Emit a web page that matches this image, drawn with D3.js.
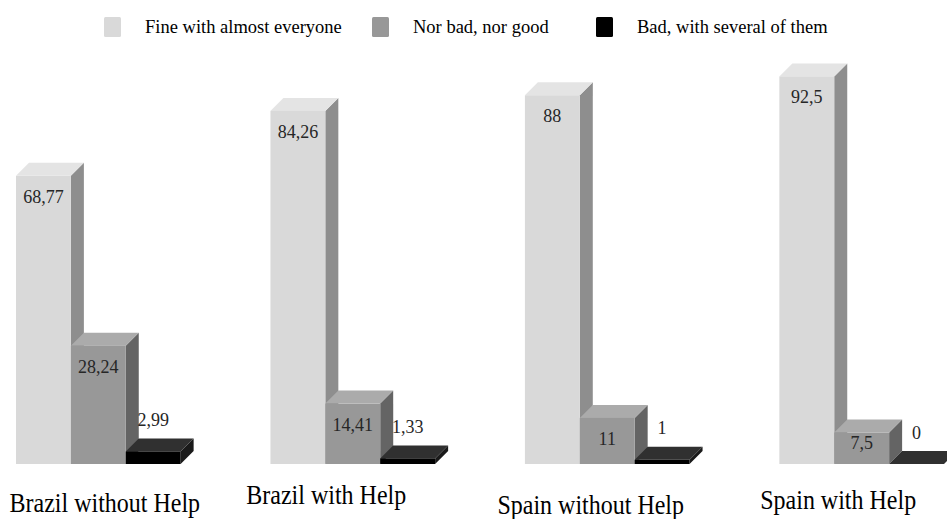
<!DOCTYPE html>
<html>
<head>
<meta charset="utf-8">
<script src="https://cdn.jsdelivr.net/npm/d3@7"></script>
<style>
  html, body { margin: 0; padding: 0; background: #fff; }
  svg { display: block; }
</style>
</head>
<body>
<svg id="chart" width="947" height="519"></svg>
<script>
// Survey answers per group (percent)
const categories = ["Brazil without Help", "Brazil with Help", "Spain without Help", "Spain with Help"];
const seriesNames = ["Fine with almost everyone", "Nor bad, nor good", "Bad, with several of them"];
const fineValues = [68.77, 84.26, 88, 92.5];
const neutralValues = [28.24, 14.41, 11, 7.5];
const badValues = [2.99, 1.33, 1, 0];
const valueLabels = [
  ["68,77", "28,24", "2,99"],
  ["84,26", "14,41", "1,33"],
  ["88", "11", "1"],
  ["92,5", "7,5", "0"]
];

const FONT = "Liberation Serif";

// Face shades per series: front, top, side
const palette = [
  { front: "#d9d9d9", top: "#e4e4e4", side: "#8e8e8e", key: "#d9d9d9" },
  { front: "#989898", top: "#ababab", side: "#646464", key: "#989898" },
  { front: "#000000", top: "#303030", side: "#1a1a1a", key: "#000000" }
];

const depth = 13;           // 3D extrusion offset (x right, y up)
const baseY = 464;

const svg = d3.select("#chart");

const x0 = d3.scaleBand().domain(categories).range([16, 944]).paddingInner(90 / 255).paddingOuter(0);
const x1 = d3.scaleBand().domain(seriesNames).range([0, x0.bandwidth()]).padding(0);
const y = d3.scaleLinear().domain([0, 100]).range([baseY, baseY - 419]);

const seriesValues = [fineValues, neutralValues, badValues];

const rows = categories.map((c, i) => ({
  cat: c,
  bars: seriesNames.map((s, j) => ({ series: s, j, value: seriesValues[j][i], label: valueLabels[i][j] }))
}));

const plot = svg.append("g");

const groups = plot.selectAll("g.group").data(rows).join("g")
  .attr("class", "group")
  .attr("transform", d => `translate(${x0(d.cat)},0)`);

const bar = groups.selectAll("g.bar").data(d => d.bars).join("g").attr("class", "bar");

const bw = x1.bandwidth();

// side face
bar.append("path")
  .attr("fill", d => palette[d.j].side)
  .attr("d", d => {
    const xl = x1(d.series) + bw, t = y(d.value);
    return `M${xl},${t} L${xl + depth},${t - depth} L${xl + depth},${baseY - depth} L${xl},${baseY} Z`;
  });
// top face
bar.append("path")
  .attr("fill", d => palette[d.j].top)
  .attr("d", d => {
    const xl = x1(d.series), t = y(d.value);
    return `M${xl},${t} L${xl + depth},${t - depth} L${xl + bw + depth},${t - depth} L${xl + bw},${t} Z`;
  });
// front face
bar.append("rect")
  .attr("fill", d => palette[d.j].front)
  .attr("x", d => x1(d.series))
  .attr("y", d => y(d.value))
  .attr("width", bw)
  .attr("height", d => baseY - y(d.value));

// value labels: inside the front face when tall enough, otherwise above the bar
bar.append("text")
  .attr("x", d => x1(d.series) + bw / 2)
  .attr("y", d => {
    const t = y(d.value), h = baseY - t;
    return h > 25 ? Math.min(t + 21, baseY - 21) : t - depth - 18.5;
  })
  .attr("text-anchor", "middle")
  .attr("dominant-baseline", "central")
  .attr("font-family", FONT)
  .attr("font-size", 18)
  .attr("fill", "#262626")
  .text(d => d.label);

// category labels under each group (slightly tall lettering)
const labelNudge = [{ dx: 0, y: 512 }, { dx: -33, y: 504 }, { dx: -23, y: 514 }, { dx: -30, y: 509 }];
svg.append("g").selectAll("text").data(categories).join("text")
  .attr("transform", (d, i) =>
    `translate(${x0(d) + x0.bandwidth() / 2 + depth / 2 + labelNudge[i].dx},${labelNudge[i].y}) scale(1,1.18)`)
  .attr("text-anchor", "middle")
  .attr("font-family", FONT)
  .attr("font-size", 24)
  .attr("fill", "#000")
  .text(d => d);

// legend
const legendX = [104, 372, 596];
const legend = svg.append("g").selectAll("g").data(seriesNames).join("g")
  .attr("transform", (d, i) => `translate(${legendX[i]},17)`);
legend.append("rect")
  .attr("width", 17).attr("height", 20).attr("rx", 1.5)
  .attr("fill", (d, i) => palette[i].key);
legend.append("text")
  .attr("x", 41).attr("y", 16)
  .attr("font-family", FONT)
  .attr("font-size", 18.5)
  .attr("fill", "#000")
  .text(d => d);
</script>
</body>
</html>
